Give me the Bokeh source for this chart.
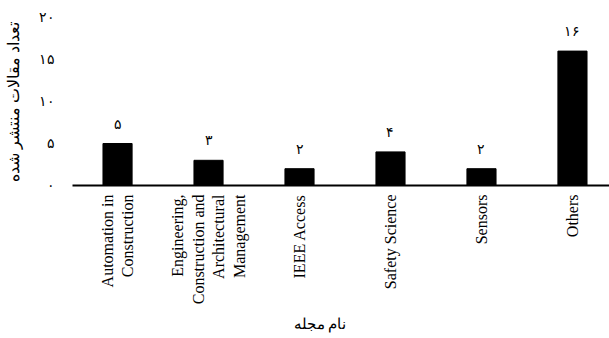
import math
from bokeh.plotting import figure
from bokeh.models import ColumnDataSource, FixedTicker, Range1d, Title
from bokeh.core.properties import value
from bokeh.embed import file_html
from bokeh.resources import INLINE

categories = [
    "Automation in\nConstruction",
    "Engineering,\nConstruction and\nArchitectural\nManagement",
    "IEEE Access",
    "Safety Science",
    "Sensors",
    "Others",
]
counts = [5, 3, 2, 4, 2, 16]
y_ticks = [0, 5, 10, 15, 20]
y_tick_labels = ["۰", "۵", "۱۰", "۱۵", "۲۰"]
x_title = "نام مجله"
y_title = "تعداد مقالات منتشر شده"

fa_digits = str.maketrans("0123456789", "۰۱۲۳۴۵۶۷۸۹")
positions = list(range(len(categories)))
count_labels = [str(c).translate(fa_digits) for c in counts]

src = ColumnDataSource(dict(x=positions, top=counts, lab=count_labels))

p = figure(width=609, height=338, output_backend="svg", toolbar_location=None,
           x_range=Range1d(-0.495, 5.407), y_range=Range1d(0, 20),
           min_border_left=72, min_border_right=0, min_border_top=17,
           min_border_bottom=152)
p.outline_line_color = None
p.background_fill_color = "white"
p.border_fill_color = "white"
p.grid.grid_line_color = None

p.vbar(x="x", top="top", width=0.32, source=src, fill_color="black", line_color="black")
p.text(x="x", y="top", text="lab", source=src, text_align="center",
       text_baseline="bottom", y_offset=-12, text_font_size="14px",
       text_font=value("Liberation Serif"), text_color="black")

# x axis
xa = p.xaxis[0]
xa.ticker = FixedTicker(ticks=positions)
xa.major_label_overrides = {i: c for i, c in zip(positions, categories)}
xa.major_label_orientation = math.pi / 2
xa.major_label_text_align = "right"
xa.major_tick_line_color = None
xa.minor_tick_line_color = None
xa.axis_line_color = "black"
xa.axis_line_width = 2
xa.major_label_text_font = "Liberation Serif"
xa.major_label_text_font_size = "16px"
xa.major_label_text_color = "black"
xa.major_label_standoff = 3

xt = Title(text=x_title, align="left", offset=221, text_font="Liberation Serif",
           text_font_style="normal", text_font_size="15px", text_color="black",
           standoff=13)
p.add_layout(xt, "below")

# y axis
ya = p.yaxis[0]
ya.ticker = FixedTicker(ticks=y_ticks)
ya.major_label_overrides = {t: l for t, l in zip(y_ticks, y_tick_labels)}
ya.axis_line_color = None
ya.major_tick_line_color = None
ya.minor_tick_line_color = None
ya.major_label_text_font = "Liberation Serif"
ya.major_label_text_font_size = "14px"
ya.major_label_text_color = "black"
ya.major_label_standoff = 12
ya.axis_label = y_title
ya.axis_label_text_font = "Liberation Serif"
ya.axis_label_text_font_style = "normal"
ya.axis_label_text_font_size = "16px"
ya.axis_label_text_color = "black"
ya.axis_label_standoff = 14

open("out.html", "w").write(file_html(p, INLINE))
